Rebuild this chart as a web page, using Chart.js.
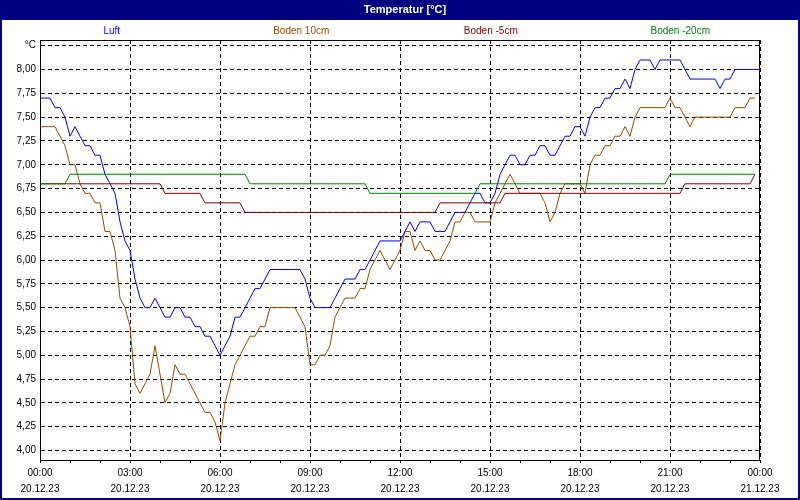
<!DOCTYPE html>
<html>
<head>
<meta charset="utf-8">
<script src="https://cdn.jsdelivr.net/npm/chart.js@4"></script>
<style>
html, body { margin: 0; padding: 0; background: #fff; }
</style>
</head>
<body>
<canvas id="chart" width="800" height="500"></canvas>
<script>
// Temperatur 20.12.23, one reading every 10 minutes (00:00 .. 23:50)
const titleText = 'Temperatur [°C]';
const stepMinutes = 10;

const tickTimes = ['00:00', '03:00', '06:00', '09:00', '12:00', '15:00', '18:00', '21:00', '00:00'];
const tickDates = ['20.12.23', '20.12.23', '20.12.23', '20.12.23', '20.12.23', '20.12.23', '20.12.23', '20.12.23', '21.12.23'];
const hourTicks = [0, 1, 2, 3, 4, 5, 6, 7, 8, 9, 10, 11, 12, 13, 14, 15, 16, 17, 18, 19, 20, 21, 22, 23, 24];
const yTicks = [4.00, 4.25, 4.50, 4.75, 5.00, 5.25, 5.50, 5.75, 6.00, 6.25, 6.50, 6.75, 7.00, 7.25, 7.50, 7.75, 8.00, 8.25];

const luft = [
    7.7, 7.7, 7.7, 7.6, 7.6, 7.5, 7.3, 7.4, 7.3, 7.2, 7.2, 7.1,
    7.1, 6.9, 6.8, 6.7, 6.4, 6.2, 6.1, 5.8, 5.6, 5.5, 5.5, 5.6,
    5.5, 5.4, 5.4, 5.5, 5.5, 5.4, 5.4, 5.3, 5.3, 5.2, 5.2, 5.1,
    5.0, 5.1, 5.2, 5.4, 5.4, 5.5, 5.6, 5.7, 5.7, 5.8, 5.9, 5.9,
    5.9, 5.9, 5.9, 5.9, 5.9, 5.8, 5.6, 5.5, 5.5, 5.5, 5.5, 5.6,
    5.7, 5.8, 5.8, 5.8, 5.9, 5.9, 6.0, 6.1, 6.2, 6.2, 6.2, 6.2,
    6.2, 6.3, 6.4, 6.3, 6.4, 6.4, 6.4, 6.3, 6.3, 6.3, 6.4, 6.5,
    6.5, 6.5, 6.6, 6.7, 6.7, 6.6, 6.6, 6.7, 6.9, 7.0, 7.1, 7.1,
    7.0, 7.0, 7.1, 7.1, 7.2, 7.2, 7.1, 7.1, 7.2, 7.3, 7.3, 7.4,
    7.4, 7.3, 7.5, 7.6, 7.6, 7.7, 7.7, 7.8, 7.8, 7.9, 7.8, 8.0,
    8.1, 8.1, 8.1, 8.0, 8.1, 8.1, 8.1, 8.1, 8.1, 8.0, 7.9, 7.9,
    7.9, 7.9, 7.9, 7.9, 7.8, 7.9, 7.9, 8.0, 8.0, 8.0, 8.0, 8.0
];
const boden10 = [
    7.4, 7.4, 7.4, 7.4, 7.3, 7.2, 7.0, 7.0, 6.8, 6.7, 6.7, 6.6,
    6.6, 6.3, 6.3, 6.1, 5.6, 5.5, 5.3, 4.7, 4.6, 4.7, 4.8, 5.1,
    4.8, 4.5, 4.6, 4.9, 4.8, 4.8, 4.7, 4.6, 4.5, 4.4, 4.4, 4.3,
    4.1, 4.5, 4.7, 4.9, 5.0, 5.1, 5.2, 5.2, 5.3, 5.3, 5.5, 5.5,
    5.5, 5.5, 5.5, 5.5, 5.4, 5.3, 4.9, 4.9, 5.0, 5.0, 5.1, 5.4,
    5.5, 5.6, 5.6, 5.6, 5.7, 5.7, 5.9, 6.0, 6.1, 6.0, 5.9, 6.0,
    6.1, 6.3, 6.3, 6.1, 6.2, 6.1, 6.1, 6.0, 6.0, 6.1, 6.2, 6.4,
    6.4, 6.5, 6.5, 6.4, 6.4, 6.4, 6.4, 6.6, 6.7, 6.8, 6.9, 6.8,
    6.7, 6.7, 6.7, 6.7, 6.7, 6.6, 6.4, 6.5, 6.7, 6.8, 6.8, 6.8,
    6.8, 6.7, 7.0, 7.1, 7.1, 7.2, 7.2, 7.3, 7.3, 7.4, 7.3, 7.5,
    7.6, 7.6, 7.6, 7.6, 7.6, 7.6, 7.7, 7.6, 7.6, 7.5, 7.4, 7.5,
    7.5, 7.5, 7.5, 7.5, 7.5, 7.5, 7.5, 7.6, 7.6, 7.6, 7.7, 7.7
];
const boden5 = [
    6.8, 6.8, 6.8, 6.8, 6.8, 6.8, 6.8, 6.8, 6.8, 6.8, 6.8, 6.8,
    6.8, 6.8, 6.8, 6.8, 6.8, 6.8, 6.8, 6.8, 6.8, 6.8, 6.8, 6.8,
    6.8, 6.7, 6.7, 6.7, 6.7, 6.7, 6.7, 6.7, 6.7, 6.6, 6.6, 6.6,
    6.6, 6.6, 6.6, 6.6, 6.6, 6.5, 6.5, 6.5, 6.5, 6.5, 6.5, 6.5,
    6.5, 6.5, 6.5, 6.5, 6.5, 6.5, 6.5, 6.5, 6.5, 6.5, 6.5, 6.5,
    6.5, 6.5, 6.5, 6.5, 6.5, 6.5, 6.5, 6.5, 6.5, 6.5, 6.5, 6.5,
    6.5, 6.5, 6.5, 6.5, 6.5, 6.5, 6.5, 6.5, 6.6, 6.6, 6.6, 6.6,
    6.6, 6.6, 6.6, 6.6, 6.6, 6.6, 6.6, 6.6, 6.6, 6.7, 6.7, 6.7,
    6.7, 6.7, 6.7, 6.7, 6.7, 6.7, 6.7, 6.7, 6.7, 6.7, 6.7, 6.7,
    6.7, 6.7, 6.7, 6.7, 6.7, 6.7, 6.7, 6.7, 6.7, 6.7, 6.7, 6.7,
    6.7, 6.7, 6.7, 6.7, 6.7, 6.7, 6.7, 6.7, 6.7, 6.8, 6.8, 6.8,
    6.8, 6.8, 6.8, 6.8, 6.8, 6.8, 6.8, 6.8, 6.8, 6.8, 6.8, 6.9
];
const boden20 = [
    6.8, 6.8, 6.8, 6.8, 6.8, 6.8, 6.9, 6.9, 6.9, 6.9, 6.9, 6.9,
    6.9, 6.9, 6.9, 6.9, 6.9, 6.9, 6.9, 6.9, 6.9, 6.9, 6.9, 6.9,
    6.9, 6.9, 6.9, 6.9, 6.9, 6.9, 6.9, 6.9, 6.9, 6.9, 6.9, 6.9,
    6.9, 6.9, 6.9, 6.9, 6.9, 6.9, 6.8, 6.8, 6.8, 6.8, 6.8, 6.8,
    6.8, 6.8, 6.8, 6.8, 6.8, 6.8, 6.8, 6.8, 6.8, 6.8, 6.8, 6.8,
    6.8, 6.8, 6.8, 6.8, 6.8, 6.8, 6.7, 6.7, 6.7, 6.7, 6.7, 6.7,
    6.7, 6.7, 6.7, 6.7, 6.7, 6.7, 6.7, 6.7, 6.7, 6.7, 6.7, 6.7,
    6.7, 6.7, 6.7, 6.7, 6.8, 6.8, 6.8, 6.8, 6.8, 6.8, 6.8, 6.8,
    6.8, 6.8, 6.8, 6.8, 6.8, 6.8, 6.8, 6.8, 6.8, 6.8, 6.8, 6.8,
    6.8, 6.8, 6.8, 6.8, 6.8, 6.8, 6.8, 6.8, 6.8, 6.8, 6.8, 6.8,
    6.8, 6.8, 6.8, 6.8, 6.8, 6.8, 6.9, 6.9, 6.9, 6.9, 6.9, 6.9,
    6.9, 6.9, 6.9, 6.9, 6.9, 6.9, 6.9, 6.9, 6.9, 6.9, 6.9, 6.9
];

const fontFamily = '"Liberation Sans", Arial, sans-serif';

function toPoints(values)
{
    return values.map((v, i) => ({x: i * stepMinutes / 60, y: v}));
}

function lineSet(label, values, color, order)
{
    return {
        label: label,
        data: toPoints(values),
        borderColor: color,
        borderWidth: 1,
        pointRadius: 0,
        tension: 0,
        fill: false,
        order: order
    };
}

// navy window frame, title bar, coloured legend texts and plot frame
const framePlugin = {
    id: 'frame',
    beforeDraw(chart) {
        const ctx = chart.ctx;
        const w = chart.width, h = chart.height;
        ctx.save();
        ctx.fillStyle = '#ffffff';
        ctx.fillRect(0, 0, w, h);
        ctx.fillStyle = '#000080';
        ctx.fillRect(0, 0, w, 20);
        ctx.fillRect(0, 0, 2, h);
        ctx.fillRect(w - 2, 0, 2, h);
        ctx.fillRect(0, h - 2, w, 2);
        ctx.fillStyle = '#ffffff';
        ctx.font = 'bold 11px ' + fontFamily;
        ctx.textAlign = 'center';
        ctx.textBaseline = 'middle';
        ctx.fillText(titleText, 405, 10);
        ctx.font = '10px ' + fontFamily;
        const colW = (775 - 17) / chart.data.datasets.length;
        chart.data.datasets.forEach((ds, i) => {
            ctx.fillStyle = ds.borderColor;
            ctx.fillText(ds.label, 17 + colW * (i + 0.5), 31);
        });
        ctx.restore();
    },
    afterDraw(chart) {
        const a = chart.chartArea;
        const ctx = chart.ctx;
        ctx.save();
        ctx.strokeStyle = '#000000';
        ctx.lineWidth = 1;
        ctx.strokeRect(Math.round(a.left) + 0.5, Math.round(a.top) + 0.5,
            Math.round(a.right - a.left) - 1, Math.round(a.bottom - a.top));
        ctx.restore();
    }
};

new Chart(document.getElementById('chart'), {
    type: 'line',
    data: {
        datasets: [
            lineSet('Luft', luft, '#0000ff', 2),
            lineSet('Boden 10cm', boden10, '#964b00', 3),
            lineSet('Boden -5cm', boden5, '#800000', 1),
            lineSet('Boden -20cm', boden20, '#008000', 0)
        ]
    },
    options: {
        responsive: false,
        animation: false,
        events: [],
        layout: {padding: {top: 40, right: 40, left: 0, bottom: 0}},
        plugins: {
            legend: {display: false},
            title: {display: false},
            tooltip: {enabled: false}
        },
        scales: {
            x: {
                type: 'linear',
                min: 0,
                max: 24,
                afterFit(s) { s.height = 40; },
                afterBuildTicks(s) { s.ticks = hourTicks.map(v => ({value: v})); },
                ticks: {
                    autoSkip: false,
                    maxRotation: 0,
                    padding: 2,
                    color: '#000',
                    font: {family: fontFamily, size: 10, lineHeight: 1.6},
                    callback: v => v % 3 === 0 ? [tickTimes[v / 3], tickDates[v / 3]] : ''
                },
                grid: {
                    color: c => (c.tick && c.tick.value % 3 === 0) ? '#000' : 'rgba(0,0,0,0)',
                    tickColor: '#000',
                    tickLength: 3,
                    lineWidth: 1
                },
                border: {color: '#000', dash: [4, 3]}
            },
            y: {
                min: 3.9,
                max: 8.31,
                afterFit(s) { s.width = 40; },
                afterBuildTicks(s) { s.ticks = yTicks.map(v => ({value: v})); },
                ticks: {
                    padding: 4,
                    color: '#000',
                    font: {family: fontFamily, size: 10},
                    callback: v => v === 8.25 ? '°C' : v.toFixed(2).replace('.', ',')
                },
                grid: {color: '#000', drawTicks: false, lineWidth: 1},
                border: {color: '#000', dash: [4, 3]}
            }
        }
    },
    plugins: [framePlugin]
});
</script>
</body>
</html>
